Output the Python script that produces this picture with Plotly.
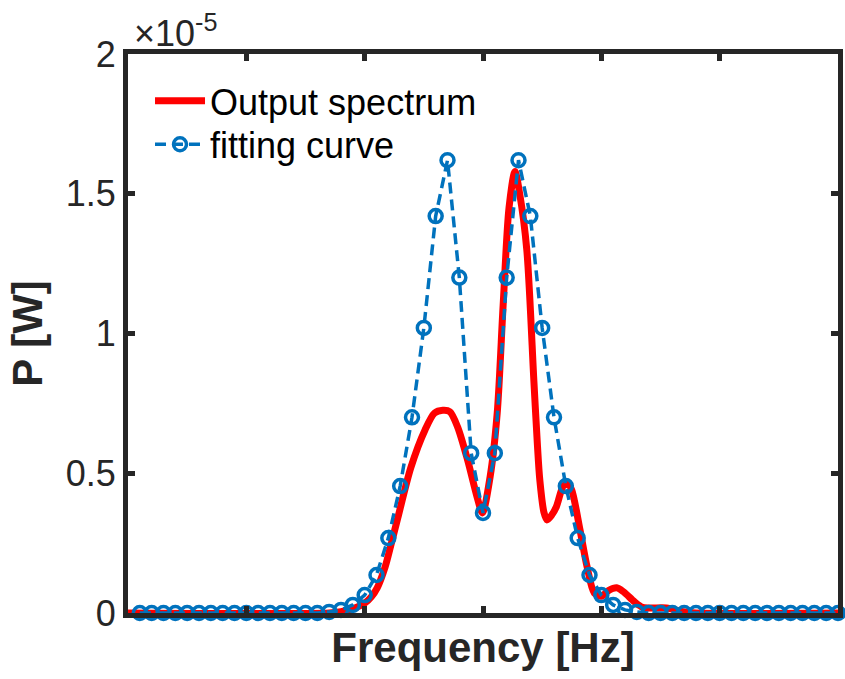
import plotly.graph_objects as go

# Output spectrum (power in units of 1e-5 W) sampled along the frequency axis
spectrum_freq = [0, 17.0, 18.0, 19.0, 20.0, 20.55, 21.06, 21.73, 22.2, 22.8, 23.9,
                 25.1, 25.9, 26.6, 27.2, 27.85, 28.7, 29.5, 29.95, 30.6, 31.2,
                 31.7, 32.2, 32.7, 33.1, 33.7, 34.3, 34.6, 34.8, 35.15, 35.4,
                 35.8, 36.2, 36.8, 37.2, 37.5, 38.2, 38.8, 39.4, 40.0, 40.6,
                 41.3, 41.9, 42.8, 43.5, 45.5, 46.9, 48.0, 60.0]
spectrum_power = [0, 0, 0.005, 0.015, 0.035, 0.057, 0.09, 0.165, 0.24, 0.34, 0.52,
                  0.655, 0.715, 0.725, 0.72, 0.666, 0.547, 0.415, 0.358, 0.487, 0.715,
                  1.10, 1.45, 1.58, 1.50, 1.30, 0.83, 0.60, 0.476, 0.36, 0.333,
                  0.35, 0.38, 0.455, 0.46, 0.44, 0.297, 0.165, 0.072, 0.06, 0.08,
                  0.09, 0.075, 0.04, 0.02, 0.018, 0.005, 0, 0]

# Fitting curve samples (one per frequency bin)
fit_freq = list(range(1, 61))
fit_power = [0] * 16 + [0.004, 0.011, 0.029, 0.064, 0.136, 0.268, 0.454, 0.70,
                        1.02, 1.42, 1.62, 1.20, 0.572, 0.358, 0.572, 1.20, 1.62,
                        1.42, 1.02, 0.70, 0.454, 0.268, 0.136, 0.064, 0.029,
                        0.011, 0.004] + [0] * 17

y_ticks = [0, 0.5, 1, 1.5, 2]
y_tick_labels = ["0", "0.5", "1", "1.5", "2"]

ink = "#262626"
font_family = "Liberation Sans, Arial, sans-serif"

fig = go.Figure()
fig.add_trace(go.Scatter(
    x=spectrum_freq, y=spectrum_power, mode="lines", name="Output spectrum",
    line=dict(color="#FF0000", width=7, shape="spline", smoothing=0.8),
    legend="legend",
))
fig.add_trace(go.Scatter(
    x=fit_freq, y=fit_power, mode="lines+markers", name="fitting curve",
    line=dict(color="#0072BD", width=3.5, dash="11px,6px"),
    marker=dict(symbol="circle-open", size=13, color="#0072BD",
                line=dict(width=3.5, color="#0072BD")),
    cliponaxis=False,
    legend="legend2",
))

legend_style = dict(xanchor="left", yanchor="top", bgcolor="rgba(0,0,0,0)",
                    font=dict(size=36, color="black"), itemwidth=50)

fig.update_layout(
    width=845, height=679,
    margin=dict(l=128, r=2, t=54, b=66),
    plot_bgcolor="white", paper_bgcolor="white",
    font=dict(family=font_family, color=ink, size=36),
    showlegend=True,
    legend=dict(x=0.031, y=0.97, **legend_style),
    legend2=dict(x=0.031, y=0.892, **legend_style),
    xaxis=dict(
        range=[0, 60], tickvals=[0, 10, 20, 30, 40, 50, 60], showticklabels=False,
        ticks="inside", ticklen=7, tickwidth=5, tickcolor=ink,
        showline=True, linewidth=5, linecolor=ink, mirror="ticks",
        showgrid=False, zeroline=False,
        title=dict(text="<b>Frequency [Hz]</b>", font=dict(size=42, color=ink), standoff=17),
    ),
    yaxis=dict(
        range=[0, 2], tickvals=y_ticks, ticktext=y_tick_labels,
        ticks="inside", ticklen=7, tickwidth=5, tickcolor=ink,
        showline=True, linewidth=5, linecolor=ink, mirror="ticks",
        showgrid=False, zeroline=False, tickfont=dict(size=36, color=ink),
        title=dict(text="<b>P [W]</b>", font=dict(size=42, color=ink), standoff=12),
    ),
    annotations=[dict(
        text="×10<sup>-5</sup>", xref="paper", yref="paper", x=0.005, y=1.0,
        xanchor="left", yanchor="bottom", showarrow=False,
        font=dict(size=36, color=ink), yshift=-2,
    )],
)

fig.write_html("out.html")
